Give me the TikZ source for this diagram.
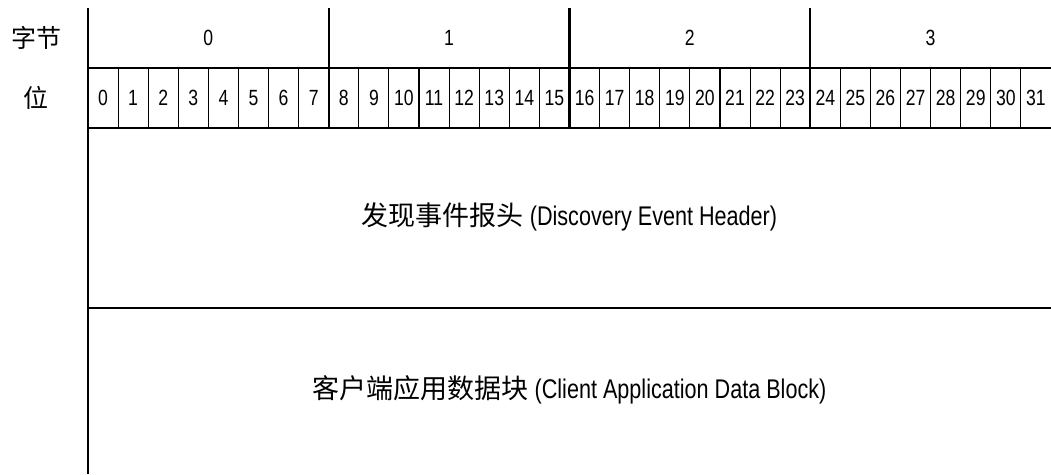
\documentclass[tikz,border=0pt]{standalone}
\usepackage{fontspec}
\setmainfont[FakeStretch=0.8]{Liberation Sans}
\newfontfamily\cjk{Noto Sans CJK SC}
\tikzset{frameline/.style={line width=2.2pt, black}}
\tikzset{bitline/.style={line width=1.1pt, black}}
\tikzset{numlabel/.style={inner sep=0pt, font=\fontsize{22}{26}\selectfont}}
\tikzset{rowtitle/.style={inner sep=0pt, font=\cjk\fontsize{25}{30}\selectfont}}
\tikzset{fieldtext/.style={inner sep=0pt, font=\fontsize{27}{32}\selectfont}}

\begin{document}
\begin{tikzpicture}
[x=1pt, y=-1pt]
\useasboundingbox (0,0) rectangle (1051,474);
%row titles on the left
\node (bytetitle) at (36,38)[rowtitle]{字节};
\node (bittitle) at (36,98)[rowtitle]{位};
%bit numbers and thin dividers
\foreach \i in {0,...,31}
  \node (bit\i) at ({88+30.09375*(\i+0.5)},98)[numlabel]{\i};
\foreach \i in {1,...,31}
  \draw[bitline] ({88+30.09375*\i},68) -- ({88+30.09375*\i},128);
%byte numbers and byte dividers
\foreach \b in {0,...,3}
  \node (byte\b) at ({88+240.75*(\b+0.5)},38)[numlabel]{\b};
\foreach \b in {1,2,3}
  \draw[frameline] ({88+240.75*\b},8) -- ({88+240.75*\b},128);
%frame
\draw[frameline] (88,8) -- (88,474);
\draw[frameline] (88,68) -- (1051,68);
\draw[frameline] (88,128) -- (1051,128);
\draw[frameline] (88,308) -- (1051,308);
%fields
\node (header) at (569.5,217)[fieldtext]{{\cjk 发现事件报头} (Discovery Event Header)};
\node (datablock) at (569.5,390)[fieldtext]{{\cjk 客户端应用数据块} (Client Application Data Block)};
\end{tikzpicture}
\end{document}
